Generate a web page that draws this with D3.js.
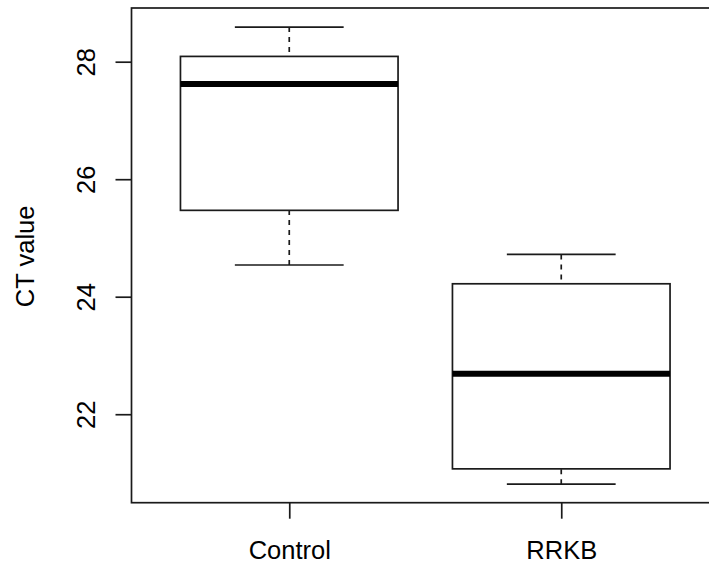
<!DOCTYPE html>
<html>
<head>
<meta charset="utf-8">
<script src="https://cdn.jsdelivr.net/npm/d3@7"></script>
<style>
  html, body { margin: 0; padding: 0; background: #fff; }
  svg { display: block; }
  text { font-family: "Liberation Sans", Arial, sans-serif; fill: #000; }
</style>
</head>
<body>
<svg id="chart" width="709" height="565"></svg>
<script>
// ---- data ----
const categories = ["Control", "RRKB"];
const whiskerLow  = [24.54, 20.81];
const quartile1   = [25.47, 21.07];
const medians     = [27.62, 22.69];
const quartile3   = [28.09, 24.22];
const whiskerHigh = [28.59, 24.72];
const yTicks = [22, 24, 26, 28];
const yLabel = "CT value";

// ---- layout ----
const svg = d3.select("#chart");
const plotLeft = 131.5, plotRight = 719, plotTop = 8, plotBottom = 502.7;
const fontSize = 25.5;

const x = d3.scaleLinear().domain([0.42, categories.length + 0.58]).range([plotLeft, plotRight]);
const y = d3.scaleLinear().domain([20.494, 28.914]).range([plotBottom, plotTop]);

const boxHalf = (x(1.4) - x(1));   // boxwex 0.8
const capHalf = (x(1.2) - x(1));   // staplewex 0.5

const stroke = "#1a1a1a";
const lw = 1.7;

const boxes = categories.map((c, i) => ({
  c, pos: i + 1,
  lo: whiskerLow[i], q1: quartile1[i], med: medians[i], q3: quartile3[i], hi: whiskerHigh[i]
}));

const g = svg.append("g");

boxes.forEach(b => {
  const cx = x(b.pos);
  // whiskers (dashed)
  g.append("line").attr("x1", cx).attr("x2", cx).attr("y1", y(b.lo)).attr("y2", y(b.q1))
    .attr("stroke", stroke).attr("stroke-width", lw).attr("stroke-dasharray", "5,5");
  g.append("line").attr("x1", cx).attr("x2", cx).attr("y1", y(b.hi)).attr("y2", y(b.q3))
    .attr("stroke", stroke).attr("stroke-width", lw).attr("stroke-dasharray", "5,5");
  // caps
  [b.lo, b.hi].forEach(v => {
    g.append("line").attr("x1", cx - capHalf).attr("x2", cx + capHalf)
      .attr("y1", y(v)).attr("y2", y(v))
      .attr("stroke", stroke).attr("stroke-width", lw);
  });
  // box
  g.append("rect").attr("x", cx - boxHalf).attr("width", 2 * boxHalf)
    .attr("y", y(b.q3)).attr("height", y(b.q1) - y(b.q3))
    .attr("fill", "#fff").attr("stroke", stroke).attr("stroke-width", lw);
  // median
  g.append("line").attr("x1", cx - boxHalf).attr("x2", cx + boxHalf)
    .attr("y1", y(b.med)).attr("y2", y(b.med))
    .attr("stroke", "#000").attr("stroke-width", 6);
});

// plot frame
svg.append("rect").attr("x", plotLeft).attr("y", plotTop)
  .attr("width", plotRight - plotLeft).attr("height", plotBottom - plotTop)
  .attr("fill", "none").attr("stroke", stroke).attr("stroke-width", lw);

// y axis
const yAxis = svg.append("g").attr("transform", `translate(${plotLeft},0)`)
  .call(d3.axisLeft(y).tickValues(yTicks).tickSize(16).tickFormat(d3.format("d")));
yAxis.select(".domain").remove();
yAxis.selectAll(".tick line").attr("stroke", stroke).attr("stroke-width", lw);
yAxis.selectAll(".tick text").remove();
yAxis.selectAll(".tick").append("text")
  .attr("transform", "translate(-37,0) rotate(-90)")
  .attr("text-anchor", "middle")
  .attr("font-size", fontSize)
  .attr("font-family", "Liberation Sans, Arial, sans-serif")
  .attr("fill", "#000")
  .text(d => d);

// x axis
const xAxis = svg.append("g").attr("transform", `translate(0,${plotBottom})`)
  .call(d3.axisBottom(x).tickValues(boxes.map(b => b.pos)).tickSize(16)
    .tickFormat((d) => categories[d - 1]));
xAxis.select(".domain").remove();
xAxis.selectAll(".tick line").attr("stroke", stroke).attr("stroke-width", lw);
xAxis.selectAll(".tick text")
  .attr("y", 0).attr("dy", 0)
  .attr("transform", "translate(0,55.8)")
  .attr("font-size", fontSize)
  .attr("font-family", "Liberation Sans, Arial, sans-serif")
  .attr("fill", "#000");

// y label
svg.append("text")
  .attr("transform", `translate(34,${(plotTop + plotBottom) / 2 + 1}) rotate(-90)`)
  .attr("text-anchor", "middle")
  .attr("font-size", fontSize)
  .text(yLabel);
</script>
</body>
</html>
